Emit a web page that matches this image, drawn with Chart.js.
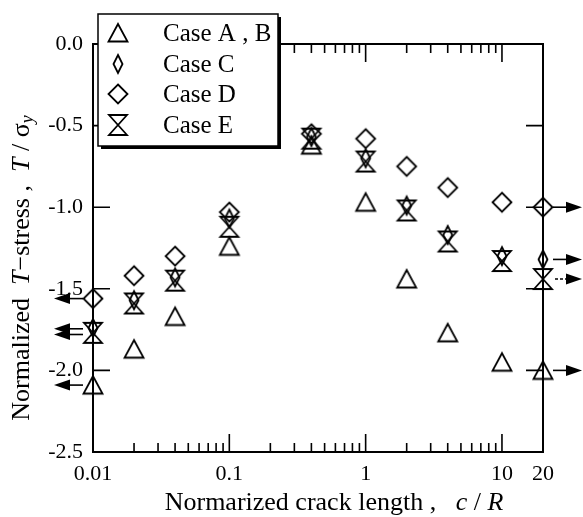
<!DOCTYPE html>
<html>
<head>
<meta charset="utf-8">
<script src="https://cdn.jsdelivr.net/npm/chart.js@4/dist/chart.umd.min.js"></script>
<style>
  html, body { margin: 0; padding: 0; background: #fff; }
</style>
</head>
<body>
<canvas id="tchart" width="583" height="517"></canvas>
<script>
// normalized crack length c/R
const crackLength = [0.01, 0.02, 0.04, 0.1, 0.4, 1, 2, 4, 10, 20];

// normalized T-stress T/sigma_y
const caseAB = [-2.09, -1.87, -1.67, -1.24, -0.62, -0.97, -1.44, -1.77, -1.95, -2.00];
const caseC  = [-1.74, -1.57, -1.43, -1.07, -0.57, -0.70, -0.99, -1.17, -1.30, -1.32];
const caseD  = [-1.56, -1.42, -1.30, -1.03, -0.55, -0.58, -0.75, -0.88, -0.97, -1.00];
const caseE  = [-1.77, -1.59, -1.45, -1.12, -0.58, -0.72, -1.02, -1.21, -1.33, -1.44];

// arrows at the limits (c/R -> 0 on the left, c/R -> infinity on the right)
const leftArrows = [-1.56, -1.745, -1.78, -2.09];
const rightArrows = [-1.00, -1.32, -2.00];
const rightArrowsDashed = [-1.44];

const xTickLabels = [0.01, 0.1, 1, 10, 20];
const xMajorTicks = [0.1, 1, 10];
const xMinorMantissa = [2, 3, 4, 5, 6, 7, 8, 9];
const xDecades = [0.01, 0.1, 1];
const yTickLabels = [0, -0.5, -1.0, -1.5, -2.0, -2.5];

const serif = '"Liberation Serif", "Times New Roman", serif';

function makeSymbol(kind) {
  const c = document.createElement("canvas");
  c.width = 26; c.height = 26;
  const g = c.getContext("2d");
  const m = 13;
  g.strokeStyle = "#000";
  g.lineWidth = 1.8;
  g.lineJoin = "miter";
  g.beginPath();
  if (kind === "triangle") {
    g.moveTo(m, m - 9);
    g.lineTo(m + 9.5, m + 8.5);
    g.lineTo(m - 9.5, m + 8.5);
  } else if (kind === "thin") {
    g.moveTo(m, m - 9);
    g.lineTo(m + 4.5, m);
    g.lineTo(m, m + 9);
    g.lineTo(m - 4.5, m);
  } else if (kind === "diamond") {
    g.moveTo(m, m - 9.5);
    g.lineTo(m + 9.5, m);
    g.lineTo(m, m + 9.5);
    g.lineTo(m - 9.5, m);
  } else {
    g.moveTo(m - 9, m - 10);
    g.lineTo(m + 9, m - 10);
    g.lineTo(m - 9, m + 10);
    g.lineTo(m + 9, m + 10);
  }
  g.closePath();
  g.stroke();
  return c;
}

const symbols = {
  ab: makeSymbol("triangle"),
  c: makeSymbol("thin"),
  d: makeSymbol("diamond"),
  e: makeSymbol("hourglass")
};

function toPoints(values) {
  return crackLength.map((x, i) => ({ x: x, y: values[i] }));
}

function drawArrow(ctx, x0, x1, y, dashed) {
  const dir = x1 > x0 ? 1 : -1;
  const head = 16;
  ctx.save();
  ctx.strokeStyle = "#000";
  ctx.fillStyle = "#000";
  ctx.lineWidth = 1.6;
  if (dashed) ctx.setLineDash([3, 2]);
  ctx.beginPath();
  ctx.moveTo(x0, y);
  ctx.lineTo(x1 - dir * head, y);
  ctx.stroke();
  ctx.setLineDash([]);
  ctx.beginPath();
  ctx.moveTo(x1, y);
  ctx.lineTo(x1 - dir * head, y - 5.5);
  ctx.lineTo(x1 - dir * head, y + 5.5);
  ctx.closePath();
  ctx.fill();
  ctx.restore();
}

function drawRich(ctx, parts, x, y) {
  let w = 0;
  parts.forEach(p => { ctx.font = p.font; w += ctx.measureText(p.t).width; });
  let cx = x - w / 2;
  parts.forEach(p => {
    ctx.font = p.font;
    ctx.fillText(p.t, cx, y + (p.dy || 0));
    cx += ctx.measureText(p.t).width;
  });
}

const framePlugin = {
  id: "frame",
  beforeDatasetsDraw(chart) {
    const ctx = chart.ctx;
    const a = chart.chartArea;
    const xs = chart.scales.x, ys = chart.scales.y;
    ctx.save();
    ctx.strokeStyle = "#000";
    ctx.lineWidth = 2;
    ctx.strokeRect(a.left, a.top, a.right - a.left, a.bottom - a.top);
    ctx.lineWidth = 1.6;
    ctx.beginPath();
    xMajorTicks.forEach(v => {
      const px = xs.getPixelForValue(v);
      ctx.moveTo(px, a.bottom); ctx.lineTo(px, a.bottom - 18);
      ctx.moveTo(px, a.top); ctx.lineTo(px, a.top + 18);
    });
    xDecades.forEach(d => {
      xMinorMantissa.forEach(mm => {
        const v = d * mm;
        if (v > 20) return;
        const px = xs.getPixelForValue(v);
        ctx.moveTo(px, a.bottom); ctx.lineTo(px, a.bottom - 9);
        ctx.moveTo(px, a.top); ctx.lineTo(px, a.top + 9);
      });
    });
    yTickLabels.forEach(v => {
      const py = ys.getPixelForValue(v);
      ctx.moveTo(a.left, py); ctx.lineTo(a.left + 17, py);
      ctx.moveTo(a.right, py); ctx.lineTo(a.right - 17, py);
    });
    ctx.stroke();
    ctx.restore();
  },
  afterDraw(chart) {
    const ctx = chart.ctx;
    const a = chart.chartArea;
    const ys = chart.scales.y;
    ctx.save();
    leftArrows.forEach(v => drawArrow(ctx, a.left - 10, 54, ys.getPixelForValue(v), false));
    rightArrows.forEach(v => drawArrow(ctx, a.right + 10, 582, ys.getPixelForValue(v), false));
    rightArrowsDashed.forEach(v => drawArrow(ctx, a.right + 12, 582, ys.getPixelForValue(v), true));

    // legend box
    const bx = 98, by = 14, bw = 180, bh = 132;
    ctx.fillStyle = "#000";
    ctx.fillRect(bx + 3, by + 3, bw, bh);
    ctx.fillStyle = "#fff";
    ctx.fillRect(bx, by, bw, bh);
    ctx.strokeStyle = "#000";
    ctx.lineWidth = 1.5;
    ctx.strokeRect(bx, by, bw, bh);
    const rows = [33, 64, 94, 125];
    ctx.fillStyle = "#000";
    ctx.textBaseline = "middle";
    ctx.textAlign = "left";
    ctx.font = "25px " + serif;
    chart.data.datasets.forEach((ds, i) => {
      const img = ds.pointStyle;
      ctx.drawImage(img, 118 - img.width / 2, rows[i] - img.height / 2);
      ctx.fillText(ds.label, 163, rows[i] + 1);
    });

    // axis titles
    const reg = "26px " + serif;
    const ital = "italic 26px " + serif;
    ctx.textAlign = "left";
    ctx.textBaseline = "middle";
    drawRich(ctx, [
      { t: "Normarized crack length ,   ", font: reg },
      { t: "c", font: ital },
      { t: " / ", font: reg },
      { t: "R", font: ital }
    ], 334, 503);

    ctx.translate(22, 268);
    ctx.rotate(-Math.PI / 2);
    drawRich(ctx, [
      { t: "Normalized  ", font: reg },
      { t: "T", font: ital },
      { t: "\u2212stress ,  ", font: reg },
      { t: "T", font: ital },
      { t: " / ", font: reg },
      { t: "\u03c3", font: reg },
      { t: "y", font: "italic 18px " + serif, dy: 6 }
    ], 0, 0);
    ctx.restore();
  }
};

new Chart(document.getElementById("tchart"), {
  type: "scatter",
  data: {
    datasets: [
      { label: "Case A , B", data: toPoints(caseAB), pointStyle: symbols.ab },
      { label: "Case C", data: toPoints(caseC), pointStyle: symbols.c },
      { label: "Case D", data: toPoints(caseD), pointStyle: symbols.d },
      { label: "Case E", data: toPoints(caseE), pointStyle: symbols.e }
    ].map(ds => Object.assign(ds, { showLine: false, clip: false }))
  },
  options: {
    responsive: false,
    animation: false,
    devicePixelRatio: 1,
    layout: { padding: { left: 0, top: 44, right: 40, bottom: 0 } },
    plugins: { legend: { display: false }, tooltip: { enabled: false } },
    scales: {
      x: {
        type: "logarithmic",
        min: 0.01,
        max: 20,
        grid: { display: false, drawTicks: false },
        border: { display: false },
        afterBuildTicks: s => { s.ticks = xTickLabels.map(v => ({ value: v })); },
        afterFit: s => { s.height = 65; },
        ticks: {
          autoSkip: false,
          maxRotation: 0,
          padding: 9,
          color: "#000",
          font: { family: serif, size: 22 },
          callback: v => String(v)
        }
      },
      y: {
        type: "linear",
        min: -2.5,
        max: 0,
        grid: { display: false, drawTicks: false },
        border: { display: false },
        afterBuildTicks: s => { s.ticks = yTickLabels.map(v => ({ value: v })); },
        afterFit: s => { s.width = 93; },
        ticks: {
          padding: 10,
          color: "#000",
          font: { family: serif, size: 22 },
          callback: v => v.toFixed(1)
        }
      }
    }
  },
  plugins: [framePlugin]
});
</script>
</body>
</html>
